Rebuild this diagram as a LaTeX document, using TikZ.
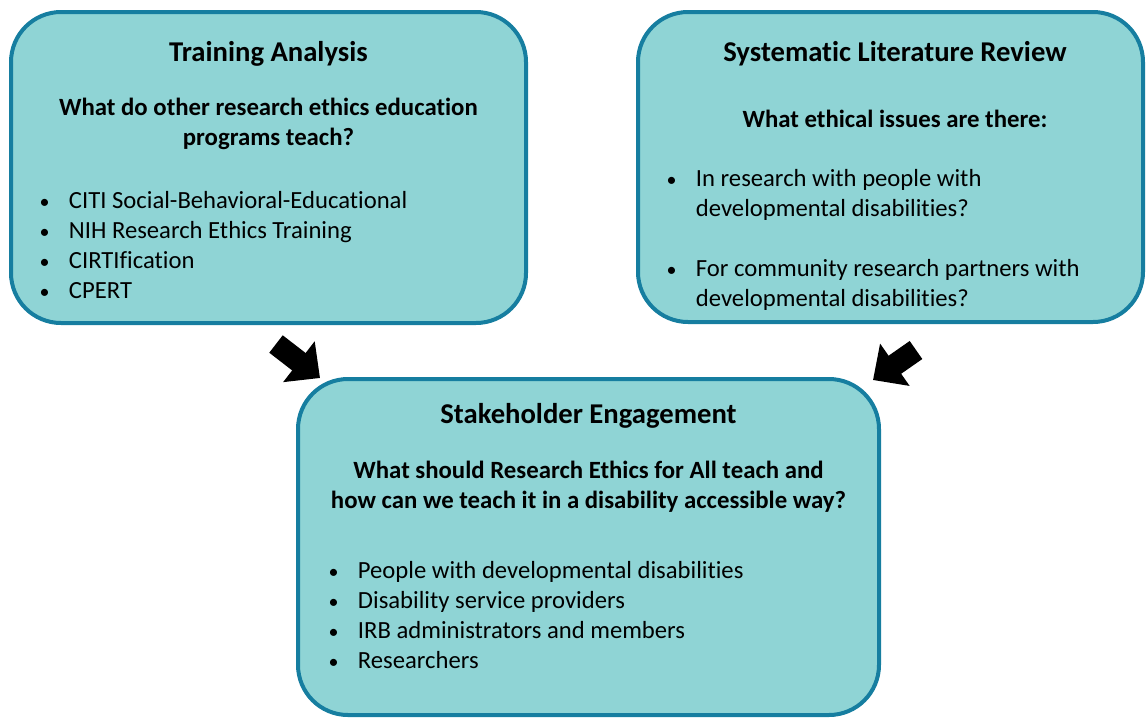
\documentclass[tikz,border=0pt]{standalone}
\usepackage{fontspec}
\setmainfont{Carlito}[Ligatures={NoCommon,NoContextual}]
\usetikzlibrary{positioning,arrows.meta}
\definecolor{StageTeal}{RGB}{143,212,213}
\definecolor{StageEdge}{RGB}{22,126,160}
\tikzset{
  stage/.style={draw=StageEdge,fill=StageTeal,line width=3pt,rounded corners=37.5pt,inner sep=0pt},
  headtext/.style={anchor=base,inner sep=0pt,font=\fontsize{21.5}{26}\selectfont\bfseries},
  asktext/.style={anchor=base,inner sep=0pt,font=\fontsize{18.6}{22.5}\selectfont\bfseries},
  listtext/.style={anchor=base west,inner sep=0pt,font=\fontsize{18.5}{22.5}\selectfont},
  bigarrow/.style={-{Triangle[width=37.5pt,length=20pt]},line width=16.5pt,draw=black}
}
\newcommand{\itm}{\makebox[23pt][l]{\hspace{1pt}{\fontsize{15}{15}\selectfont\textbullet}}}
\newcommand{\lines}[2][l]{\begin{tabular}[t]{@{}#1@{}}#2\end{tabular}}

\begin{document}
\begin{tikzpicture}[x=0.75pt,y=-0.75pt]
  \useasboundingbox (0,0) rectangle (1147,719);

  \node[stage,minimum width=386.25pt,minimum height=233.25pt] (train) at (268.5,167.5) {};
  \node[stage,minimum width=378.75pt,minimum height=232.5pt] (review) at (890.5,167) {};
  \node[stage,minimum width=435.75pt,minimum height=252pt] (engage) at (588.5,547) {};

  \node[headtext] (trainhead) at (268.5,61) {Training Analysis};
  \node[asktext] (trainask) at (268.5,115) {\lines[c]{What do other research ethics education\\programs teach?}};
  \node[listtext] (trainlist) at (38,208) {\lines{\itm CITI Social-Behavioral-Educational\\
    \itm NIH Research Ethics Training\\\itm CIRTIfication\\\itm CPERT}};

  \node[headtext] (reviewhead) at (895,61) {Systematic Literature Review};
  \node[asktext] (reviewask) at (895,127) {What ethical issues are there:};
  \node[listtext] (reviewlist) at (665,186) {\lines{\itm In research with people with\\
    \hspace{23pt}developmental disabilities?\\[22.5pt]
    \itm For community research partners with\\\hspace{23pt}developmental disabilities?}};

  \node[headtext] (engagehead) at (588.5,423) {Stakeholder Engagement};
  \node[asktext] (engageask) at (588.5,478) {\lines[c]{What should Research Ethics for All teach and\\how can we teach it in a disability accessible way?}};
  \node[listtext] (engagelist) at (327,578) {\lines{\itm People with developmental disabilities\\
    \itm Disability service providers\\\itm IRB administrators and members\\\itm Researchers}};

  \coordinate (trainout) at (276,344);
  \coordinate (engageleft) at (320,378);
  \coordinate (reviewout) at (916,350);
  \coordinate (engageright) at (873,380);
  \draw[bigarrow] (trainout) -- (engageleft);
  \draw[bigarrow] (reviewout) -- (engageright);
\end{tikzpicture}
\end{document}
